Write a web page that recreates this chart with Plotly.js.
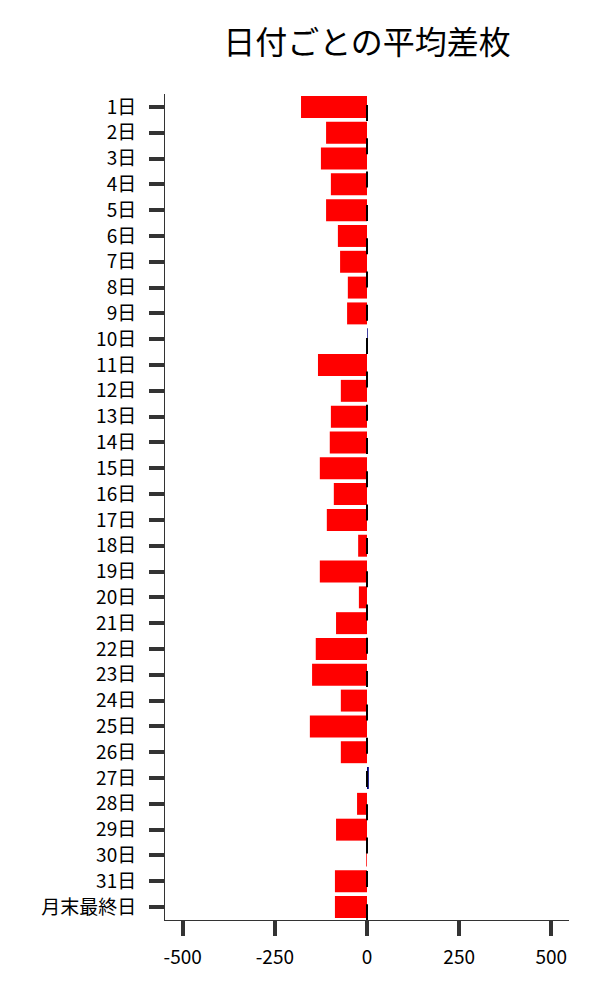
<!DOCTYPE html>
<html>
<head>
<meta charset="utf-8">
<script src="https://cdn.plot.ly/plotly-3.0.1.min.js"></script>
<style>
  body { margin: 0; background: #fff; }
  #chart { width: 600px; height: 1000px; }
</style>
</head>
<body>
<div id="chart"></div>
<script>
// categories (top to bottom) and mean difference per day
const days = ['1日', '2日', '3日', '4日', '5日', '6日', '7日', '8日', '9日', '10日',
  '11日', '12日', '13日', '14日', '15日', '16日', '17日', '18日', '19日', '20日',
  '21日', '22日', '23日', '24日', '25日', '26日', '27日', '28日', '29日', '30日',
  '31日', '月末最終日'];
const avgDiff = [-179, -111, -125, -98, -111, -79, -73, -52, -54, 2,
  -133, -71, -98, -101, -128, -90, -109, -24, -128, -22,
  -84, -139, -149, -71, -155, -71, 5, -27, -84, -2,
  -87, -87];
const xTicks = [-500, -250, 0, 250, 500];

const font = '"Noto Sans CJK JP", "Noto Sans", sans-serif';

// negative -> red, positive -> navy
let colors = []
avgDiff.forEach((v) => {
  colors.push(v < 0 ? '#ff0000' : '#000080')
})

var bars = {
  type: 'bar',
  orientation: 'h',
  y: days,
  x: avgDiff,
  marker: { color: colors },
  hoverinfo: 'x+y'
};

var layout = {
  width: 600,
  height: 1000,
  margin: { l: 165, r: 31, t: 94, b: 80 },
  paper_bgcolor: '#ffffff',
  plot_bgcolor: '#ffffff',
  font: { family: font, size: 18, color: '#000' },
  showlegend: false,
  bargap: 0.15,
  title: {
    text: '日付ごとの平均差枚',
    font: { family: font, size: 32, color: '#000' },
    x: 0.5,
    xref: 'paper',
    y: 0.957,
    yanchor: 'middle'
  },
  xaxis: {
    range: [-548, 548],
    tickvals: xTicks,
    ticktext: xTicks.map(String),
    showgrid: false,
    zeroline: false,
    showline: true,
    linecolor: '#333',
    linewidth: 1,
    ticks: 'outside',
    ticklen: 15,
    tickwidth: 4,
    tickcolor: '#333',
    ticklabelstandoff: 5,
    tickfont: { family: font, size: 19, color: '#000' },
    fixedrange: true
  },
  yaxis: {
    autorange: 'reversed',
    showgrid: false,
    zeroline: false,
    showline: true,
    linecolor: '#333',
    linewidth: 1,
    ticks: 'outside',
    ticklen: 15,
    tickwidth: 4,
    tickcolor: '#333',
    ticklabelstandoff: 9,
    tickfont: { family: font, size: 19, color: '#000' },
    fixedrange: true
  },
  shapes: [{
    type: 'line',
    xref: 'x', yref: 'paper',
    x0: 0, x1: 0,
    y0: 0.9867, y1: 0,
    line: { color: '#000', width: 2, dash: '16px,17.3px' }
  }]
};

Plotly.newPlot('chart', [bars], layout, { displayModeBar: false, staticPlot: true });
</script>
</body>
</html>
